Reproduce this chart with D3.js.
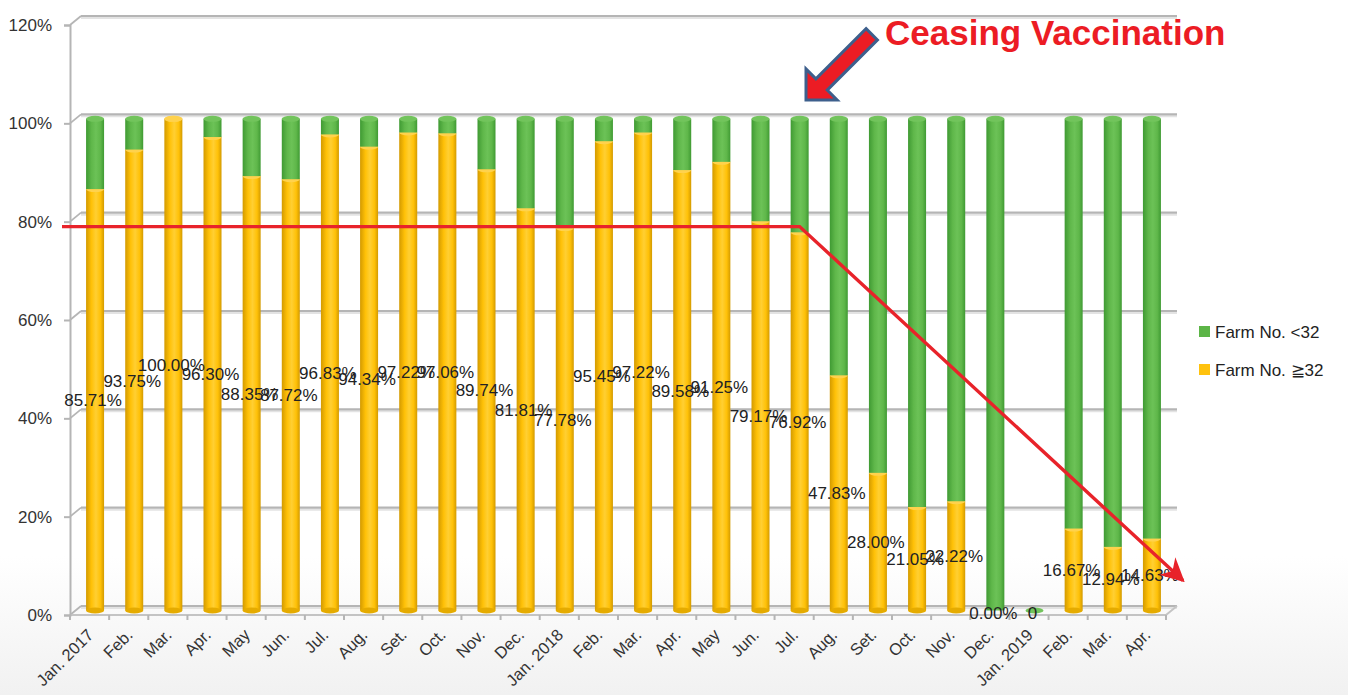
<!DOCTYPE html>
<html>
<head>
<meta charset="utf-8">
<script src="https://cdn.jsdelivr.net/npm/d3@7"></script>
<style>
  body { margin: 0; background: #fff; }
  text { font-family: "Liberation Sans", Arial, sans-serif; }
</style>
</head>
<body>
<div id="chart"></div>
<script>
// month labels, one per bar
var monthLabels = ["Jan. 2017","Feb.","Mar.","Apr.","May","Jun.","Jul.","Aug.","Set.","Oct.","Nov.","Dec.",
                   "Jan. 2018","Feb.","Mar.","Apr.","May","Jun.","Jul.","Aug.","Set.","Oct.","Nov.","Dec.",
                   "Jan. 2019","Feb.","Mar.","Apr."];
// share of farms with No. >= 32 (null = no data that month)
var pctHigh = [85.71, 93.75, 100.00, 96.30, 88.35, 87.72, 96.83, 94.34, 97.22, 97.06, 89.74, 81.81,
               77.78, 95.45, 97.22, 89.58, 91.25, 79.17, 76.92, 47.83, 28.00, 21.05, 22.22, 0.00,
               null, 16.67, 12.94, 14.63];
// share of farms with No. < 32
var pctLow = [14.29, 6.25, 0.00, 3.70, 11.65, 12.28, 3.17, 5.66, 2.78, 2.94, 10.26, 18.19,
              22.22, 4.55, 2.78, 10.42, 8.75, 20.83, 23.08, 52.17, 72.00, 78.95, 77.78, 100.00,
              0, 83.33, 87.06, 85.37];
var yTicks = [0, 20, 40, 60, 80, 100, 120];
var seriesNames = ["Farm No. <32", "Farm No. \u226732"];
// red trend annotation: flat level, then falls after this month
var trendLevel = 79;
var trendBendIndex = 18;
var trendEndLevel = 7;

var W = 1348, H = 695;
var depthX = 11, depthY = -9; // fake 3d offset of back wall

var svg = d3.select("#chart").append("svg")
  .attr("width", W).attr("height", H);

var defs = svg.append("defs");

var bg = defs.append("linearGradient").attr("id", "bg")
  .attr("x1", 0).attr("y1", 0).attr("x2", 0).attr("y2", 1);
bg.append("stop").attr("offset", "0.8").attr("stop-color", "#ffffff");
bg.append("stop").attr("offset", "1").attr("stop-color", "#f1f1f1");
svg.append("rect").attr("width", W).attr("height", H).attr("fill", "url(#bg)");

function cylGrad(id, edge, mid, light) {
  var g = defs.append("linearGradient").attr("id", id)
    .attr("x1", 0).attr("y1", 0).attr("x2", 1).attr("y2", 0);
  g.append("stop").attr("offset", "0").attr("stop-color", edge);
  g.append("stop").attr("offset", "0.3").attr("stop-color", mid);
  g.append("stop").attr("offset", "0.55").attr("stop-color", light);
  g.append("stop").attr("offset", "0.8").attr("stop-color", mid);
  g.append("stop").attr("offset", "1").attr("stop-color", edge);
}
cylGrad("gYel", "#d39a00", "#ffc107", "#ffcf33");
cylGrad("gGrn", "#3f9a33", "#5fb74a", "#6cc257");

var colors = { low: "#5cb547", high: "#ffc20e" };

var x = d3.scaleBand().domain(d3.range(monthLabels.length)).range([70, 1166]);
var y = d3.scaleLinear().domain([0, 120]).range([615, 25]);

// bar positions sit halfway between front axis and back wall
function barX(i) { return x(i) + x.bandwidth() / 2 + depthX / 2; }
function barY(v) { return y(v) + depthY / 2; }
var barW = 18, capR = 3;

// back wall gridlines and side diagonals
var grid = svg.append("g");
yTicks.forEach(function(t) {
  grid.append("line")
    .attr("x1", 70 + depthX).attr("x2", 1166 + depthX)
    .attr("y1", y(t) + depthY + 2).attr("y2", y(t) + depthY + 2)
    .attr("stroke", "#e3e3e3").attr("stroke-width", 2);
  grid.append("line")
    .attr("x1", 70 + depthX).attr("x2", 1166 + depthX)
    .attr("y1", y(t) + depthY).attr("y2", y(t) + depthY)
    .attr("stroke", "#b5b5b5").attr("stroke-width", 2.2);
  grid.append("line")
    .attr("x1", 70).attr("x2", 70 + depthX)
    .attr("y1", y(t)).attr("y2", y(t) + depthY)
    .attr("stroke", "#b5b5b5").attr("stroke-width", 1.8);
});
// floor
grid.append("line").attr("x1", 70).attr("x2", 1166).attr("y1", y(0)).attr("y2", y(0))
  .attr("stroke", "#c4c4c4").attr("stroke-width", 2);
grid.append("line").attr("x1", 1166).attr("x2", 1166 + depthX)
  .attr("y1", y(0)).attr("y2", y(0) + depthY)
  .attr("stroke", "#c4c4c4").attr("stroke-width", 2);

// y axis
var yAxis = svg.append("g").attr("transform", "translate(70,0)")
  .call(d3.axisLeft(y).tickValues(yTicks).tickFormat(function(d) { return d + "%"; }).tickSize(6).tickPadding(12));
yAxis.select(".domain").attr("stroke", "#b5b5b5").attr("stroke-width", 2);
yAxis.selectAll(".tick line").attr("stroke", "#b5b5b5").attr("stroke-width", 2);
yAxis.selectAll("text").attr("font-size", 17).attr("fill", "#333")
  .attr("font-family", "Liberation Sans, Arial, sans-serif");

// x axis: ticks between categories, rotated labels
var xTicks = svg.append("g");
d3.range(monthLabels.length + 1).forEach(function(i) {
  var xp = 70 + i * x.step();
  xTicks.append("line").attr("x1", xp).attr("x2", xp).attr("y1", y(0)).attr("y2", y(0) + 5)
    .attr("stroke", "#b5b5b5").attr("stroke-width", 2);
});
xTicks.selectAll("text.month").data(monthLabels).enter().append("text")
  .attr("class", "month")
  .attr("transform", function(d, i) {
    return "translate(" + (x(i) + x.bandwidth() / 2 + 5) + "," + (y(0) + 21) + ") rotate(-45)";
  })
  .attr("text-anchor", "end")
  .attr("font-size", 16.5)
  .attr("fill", "#333")
  .text(function(d) { return d; });

// cylinders
var bars = svg.append("g");
monthLabels.forEach(function(m, i) {
  var cx = barX(i);
  var hi = pctHigh[i] == null ? 0 : pctHigh[i];
  var lo = pctLow[i];
  var g = bars.append("g");
  // yellow body
  if (hi > 0) {
    g.append("rect").attr("x", cx - barW / 2).attr("width", barW)
      .attr("y", barY(hi)).attr("height", barY(0) - barY(hi))
      .attr("fill", "url(#gYel)");
    g.append("ellipse").attr("cx", cx).attr("cy", barY(0)).attr("rx", barW / 2).attr("ry", capR)
      .attr("fill", "#e5ab00");
    g.append("ellipse").attr("cx", cx).attr("cy", barY(hi)).attr("rx", barW / 2).attr("ry", capR)
      .attr("fill", "#ffd24d");
  }
  // green body on top
  var top = hi + lo;
  if (lo > 0) {
    g.append("rect").attr("x", cx - barW / 2).attr("width", barW)
      .attr("y", barY(top)).attr("height", barY(hi) - barY(top))
      .attr("fill", "url(#gGrn)");
  }
  g.append("ellipse").attr("cx", cx).attr("cy", barY(top)).attr("rx", barW / 2).attr("ry", capR)
    .attr("fill", lo > 0 || pctHigh[i] == null ? "#72c45c" : "#ffd24d");
});

// data labels for the >=32 series
svg.append("g").selectAll("text").data(pctHigh).enter().append("text")
  .attr("x", function(d, i) { return barX(i) - 2; })
  .attr("y", function(d) { return barY((d == null ? 0 : d) / 2) + (d ? 1 : 3); })
  .attr("text-anchor", "middle")
  .attr("dominant-baseline", "central")
  .attr("font-size", 17)
  .attr("fill", "#222")
  .text(function(d) { return d == null ? "0" : d3.format(".2f")(d) + "%"; });

// legend
var legend = svg.append("g").attr("transform", "translate(1199,326)");
[{ name: seriesNames[0], c: colors.low }, { name: seriesNames[1], c: colors.high }].forEach(function(s, i) {
  legend.append("rect").attr("x", 0).attr("y", i * 38).attr("width", 11).attr("height", 11).attr("fill", s.c);
  legend.append("text").attr("x", 16).attr("y", i * 38 + 6).attr("dominant-baseline", "central")
    .attr("font-size", 17).attr("fill", "#222").text(s.name);
});

// red trend line with arrow
defs.append("marker").attr("id", "redHead")
  .attr("viewBox", "0 0 10 10").attr("refX", 9).attr("refY", 5)
  .attr("markerWidth", 7).attr("markerHeight", 7).attr("markerUnits", "strokeWidth")
  .attr("orient", "auto")
  .append("path").attr("d", "M0,0 L10,5 L0,10 L3,5 Z").attr("fill", "#e8232a");

var trendPts = [
  [62, y(trendLevel)],
  [barX(trendBendIndex), y(trendLevel)],
  [1166 + 17, y(trendEndLevel)]
];
svg.append("path")
  .attr("d", d3.line()(trendPts))
  .attr("fill", "none").attr("stroke", "#e8232a").attr("stroke-width", 3.4)
  .attr("marker-end", "url(#redHead)");

// "Ceasing Vaccination" callout with block arrow
svg.append("g").attr("transform", "translate(806,100) rotate(135)")
  .append("path")
  .attr("d", "M0,0 L-22,-22 L-22,-8 L-93,-8 L-93,8 L-22,8 L-22,22 Z")
  .attr("fill", "#ec1c24").attr("stroke", "#3d5f8c").attr("stroke-width", 3)
  .attr("stroke-linejoin", "miter");

svg.append("text").attr("x", 885).attr("y", 45)
  .attr("font-size", 35).attr("font-weight", "bold").attr("fill", "#ec1c24")
  .text("Ceasing Vaccination");
</script>
</body>
</html>
